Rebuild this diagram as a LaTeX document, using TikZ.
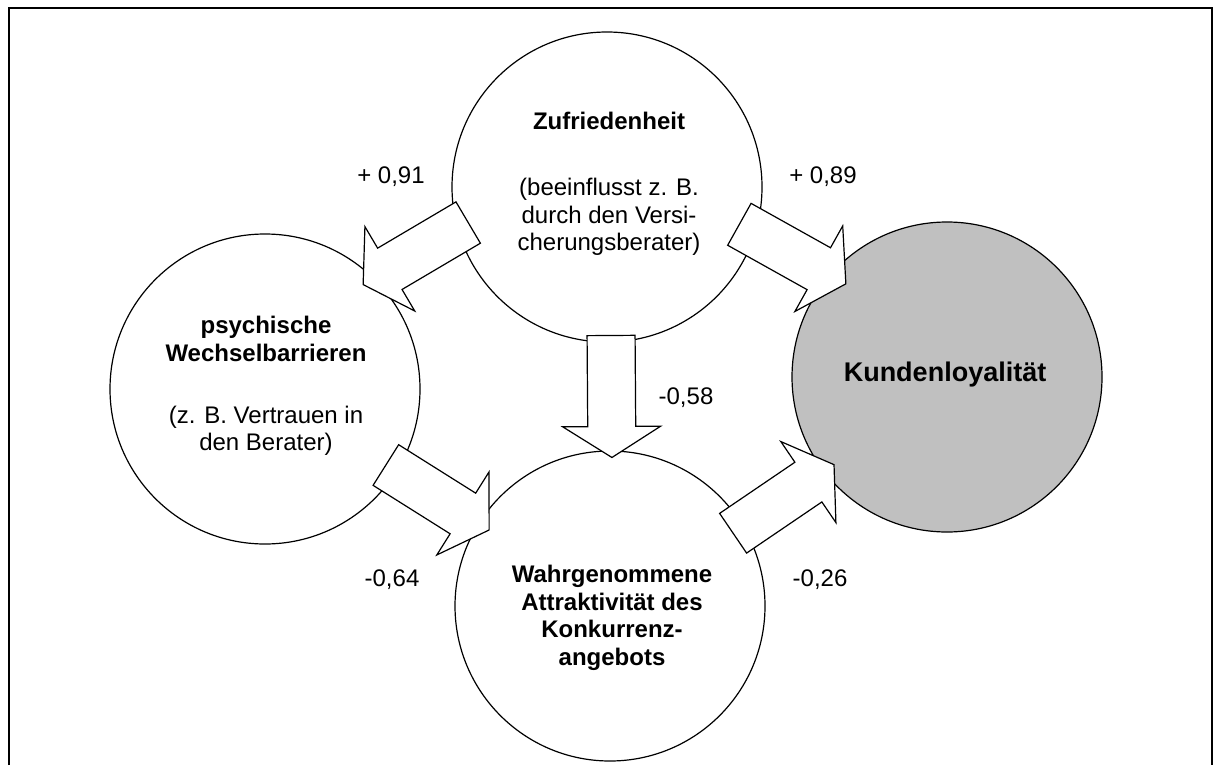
\documentclass[tikz,border=0pt]{standalone}
\usepackage{fontspec}
\setmainfont{Liberation Sans}
\usetikzlibrary{calc}
\tikzset{
    kreis/.style={
        circle, draw, line width=0.6pt, fill=white,
        minimum size=155pt, inner sep=0pt
    },
    ziel/.style={kreis, fill=zielgrau},
    pfeil/.style={draw, line width=0.6pt, fill=white, line join=miter},
    kreistext/.style={font=\fontsize{12}{13.8}\selectfont, align=center},
    wert/.style={font=\fontsize{12}{13.8}\selectfont, inner sep=0pt}
}
\definecolor{zielgrau}{HTML}{C0C0C0}
% block arrow half way between two circles, #3 = shift across
\newcommand\blockpfeil[3]{%
    \path let \p1=($(#2)-(#1)$), \n1={atan2(\y1,\x1)} in
        \pgfextra{\xdef\pfeilwinkel{\n1}};
    \begin{scope}[shift={($(#1)!.5!(#2)$)}, rotate=\pfeilwinkel, shift={(0,#3)}]
        \draw[pfeil] (-61,-24) -- (30,-24) -- (30,-49) -- (61,0)
            -- (30,49) -- (30,24) -- (-61,24) -- cycle;
    \end{scope}
}

\begin{document}
\begin{tikzpicture}[x=0.5pt, y=-0.5pt]
    \useasboundingbox (0,0) rectangle (1218,765);
    \draw[line width=1pt] (9,765) -- (9,8) -- (1212,8) -- (1212,765);

    % circles
    \node[kreis] (Z) at (607,187) {};
    \node[kreis] (P) at (265,389) {};
    \node[ziel] (K) at (947,377) {};
    \node[kreis] (W) at (610,606) {};

    % texts
    \node[kreistext] (Ztext) at (609,184)
        {\textbf{Zufriedenheit}\\[19pt](beeinflusst z. B.\\durch den Versi-\\cherungsberater)};
    \node[kreistext] (Ptext) at (266,386)
        {\textbf{psychische}\\\textbf{Wechselbarrieren}\\[17pt](z. B. Vertrauen in\\den Berater)};
    \node[kreistext, font=\fontsize{13.5}{16}\selectfont\bfseries] (Ktext) at (945,375) {Kundenloyalität};
    \node[kreistext, font=\fontsize{12}{13.8}\selectfont\bfseries] (Wtext) at (612,618)
        {Wahrgenommene\\Attraktivität des\\Konkurrenz-\\angebots};

    % arrows
    \blockpfeil{Z}{P}{40}
    \blockpfeil{Z}{K}{-32}
    \blockpfeil{Z}{W}{-3}
    \blockpfeil{P}{W}{0}
    \blockpfeil{W}{K}{9}

    % values
    \node[wert] (wZP) at (391,177) {+ 0,91};
    \node[wert] (wZK) at (823,177) {+ 0,89};
    \node[wert] (wZW) at (686,398) {-0,58};
    \node[wert] (wPW) at (392,580) {-0,64};
    \node[wert] (wWK) at (820,580) {-0,26};
\end{tikzpicture}
\end{document}
